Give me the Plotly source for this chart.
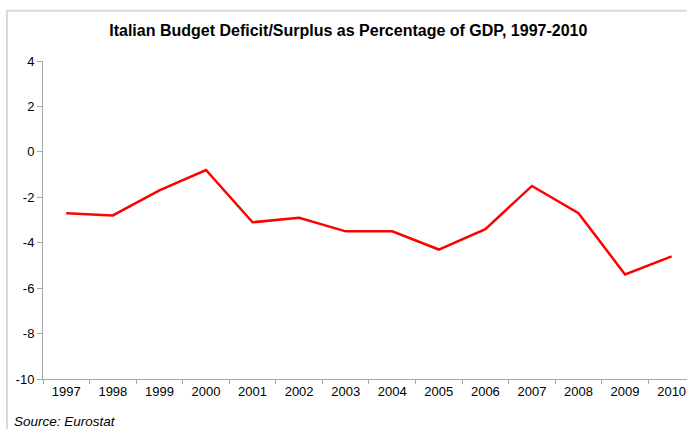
import plotly.graph_objects as go

# Italian general government balance, % of GDP (Eurostat)
years = ["1997", "1998", "1999", "2000", "2001", "2002", "2003",
         "2004", "2005", "2006", "2007", "2008", "2009", "2010"]
balance = [-2.7, -2.8, -1.7, -0.8, -3.1, -2.9, -3.5,
           -3.5, -4.3, -3.4, -1.5, -2.7, -5.4, -4.6]
y_ticks = [4, 2, 0, -2, -4, -6, -8, -10]

FONT = "Liberation Sans, Arial, sans-serif"
AXIS_GREY = "#a6a6a6"

fig = go.Figure(
    go.Scatter(
        x=years,
        y=balance,
        mode="lines",
        line=dict(color="#ff0000", width=2.5),
        hoverinfo="x+y",
    )
)

fig.update_layout(
    width=687,
    height=429,
    margin=dict(l=43, r=0, t=61, b=50),
    paper_bgcolor="white",
    plot_bgcolor="white",
    showlegend=False,
    font=dict(family=FONT, size=13, color="#000000"),
    title=dict(
        text="<b>Italian Budget Deficit/Surplus as Percentage of GDP, 1997-2010</b>",
        font=dict(family=FONT, size=16, color="#000000"),
        x=0.507,
        xanchor="center",
        xref="container",
        y=0.930,
        yanchor="middle",
        yref="container",
    ),
)

fig.update_xaxes(
    type="category",
    range=[-0.5, 13.33],
    tickson="boundaries",
    ticks="outside",
    ticklen=4,
    tickcolor=AXIS_GREY,
    showline=True,
    linecolor=AXIS_GREY,
    linewidth=1,
    showgrid=False,
    zeroline=False,
    tickfont=dict(size=13),
    fixedrange=True,
)

fig.update_yaxes(
    range=[-10, 4],
    tickvals=y_ticks,
    ticktext=[str(v) for v in y_ticks],
    ticks="outside",
    ticklen=5,
    tickcolor=AXIS_GREY,
    showline=True,
    linecolor=AXIS_GREY,
    linewidth=1,
    showgrid=False,
    zeroline=False,
    tickfont=dict(size=13),
    fixedrange=True,
)

# Light grey chart frame (runs off the right and bottom edges)
fig.add_shape(
    type="rect",
    xref="paper",
    yref="paper",
    x0=-0.0559,
    x1=1.2,
    y0=-0.4,
    y1=1.158,
    line=dict(color="#d9d9d9", width=2),
    fillcolor="rgba(0,0,0,0)",
    layer="below",
)

fig.add_annotation(
    text="<i>Source: Eurostat</i>",
    xref="paper",
    yref="paper",
    x=-0.048,
    y=-0.133,
    xanchor="left",
    yanchor="middle",
    showarrow=False,
    font=dict(family=FONT, size=13.5, color="#000000"),
)

fig.write_html("out.html")
